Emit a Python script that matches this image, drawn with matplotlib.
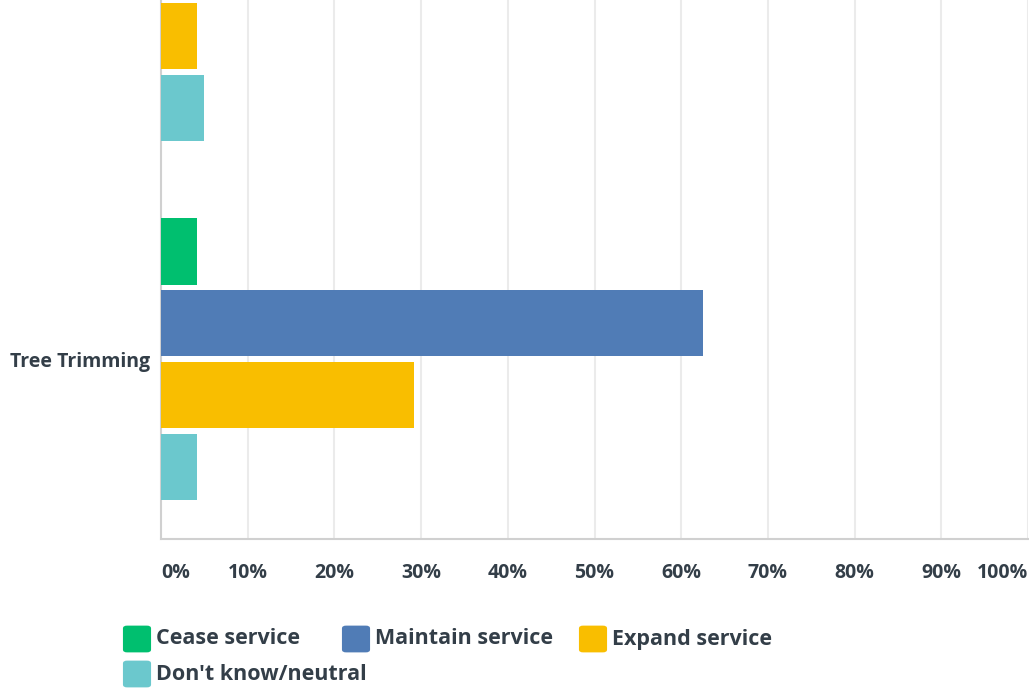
import numpy as np
import matplotlib.pyplot as plt
from matplotlib.patches import FancyBboxPatch

# ---------------------------
# Data (share of respondents)
# ---------------------------
categories = ["", "Tree Trimming"]  # first group is cut off at the top
series_names = ["Cease service", "Maintain service", "Expand service", "Don't know/neutral"]
cease = [0.0, 4.17]
maintain = [0.0, 62.50]
expand = [4.17, 29.17]
dont_know = [5.00, 4.17]
tick_labels = ["0%", "10%", "20%", "30%", "40%", "50%", "60%", "70%", "80%", "90%", "100%"]

colors = ["#00bf6f", "#507cb6", "#f9be00", "#6bc8cd"]
TEXT = "#333e48"
W, H = 1029, 691

plt.rcParams["font.family"] = ["Open Sans", "DejaVu Sans"]

fig = plt.figure(figsize=(W / 100, H / 100), dpi=100)
ax = fig.add_axes([161 / W, 152 / H, (1028 - 161) / W, 539 / H])

y = np.arange(len(categories))
bar_h = 0.184
offsets = [-0.3, -0.1, 0.1, 0.3]
for vals, off, col in zip([cease, maintain, expand, dont_know], offsets, colors):
    ax.barh(y + off, np.array(vals) / 100, height=bar_h, color=col, zorder=3)

ax.set_xlim(0, 1)
ax.set_ylim(1.5, 0.015)

ax.set_xticks(np.linspace(0, 1, 11))
ax.set_xticklabels(tick_labels)
ax.set_yticks(y)
ax.set_yticklabels(categories)
ax.tick_params(length=0, labelsize=14, labelcolor=TEXT)
ax.tick_params(axis="x", pad=17)
ax.tick_params(axis="y", pad=8)
for lbl in ax.get_xticklabels() + ax.get_yticklabels():
    lbl.set_fontweight("bold")
xl = ax.get_xticklabels()
xl[0].set_ha("left")
xl[-1].set_ha("right")

ax.grid(axis="x", color="#ebebeb", linewidth=1.5, zorder=0)
for s in ["top", "right"]:
    ax.spines[s].set_visible(False)
for s in ["left", "bottom"]:
    ax.spines[s].set_color("#d0d0d0")
    ax.spines[s].set_linewidth(1.5)

# ---------------------------
# Legend (flow layout, pixel positions)
# ---------------------------
legend_pos = [(123, 639), (342, 639), (579, 639), (123, 674)]
for name, col, (px, py) in zip(series_names, colors, legend_pos):
    sq = 28
    patch = FancyBboxPatch(((px + 2) / W, (H - py - sq / 2 + 2) / H),
                           (sq - 4) / W, (sq - 4) / H,
                           boxstyle="round,pad=0.002,rounding_size=0.004",
                           transform=fig.transFigure, facecolor=col,
                           edgecolor=col, linewidth=0)
    fig.patches.append(patch)
    fig.text((px + sq + 5) / W, (H - py) / H, name, color=TEXT, fontsize=15.5,
             fontweight="bold", va="center", ha="left")

fig.savefig("out.png", dpi=100)
